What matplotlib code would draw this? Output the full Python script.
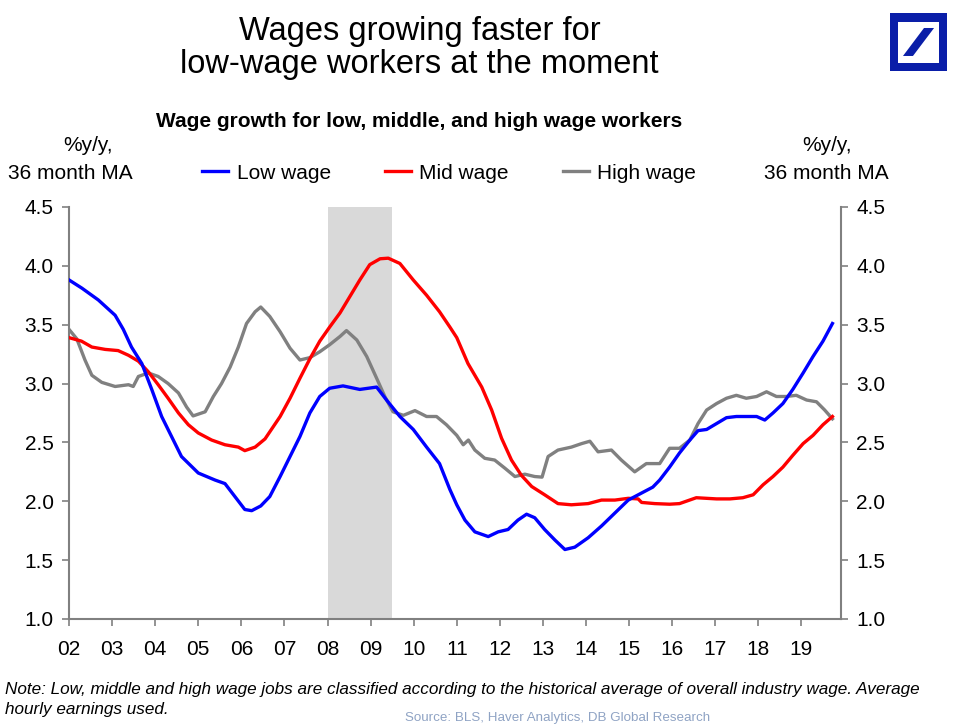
import matplotlib
matplotlib.use("Agg")
import matplotlib.pyplot as plt
from matplotlib.patches import Rectangle, Polygon

plt.rcParams['font.family'] = ['Liberation Sans', 'DejaVu Sans']

# data (year, %y/y 36m MA)
low_x = [2002.0, 2002.3, 2002.68, 2003.07, 2003.26, 2003.45, 2003.69, 2003.92, 2004.15, 2004.38,
         2004.61, 2005.0, 2005.39, 2005.62, 2005.85, 2006.08, 2006.24, 2006.45, 2006.66, 2006.9,
         2007.13, 2007.36, 2007.59, 2007.82, 2008.05, 2008.36, 2008.75, 2009.14, 2009.37, 2009.68,
         2009.99, 2010.3, 2010.6, 2010.84, 2011.0, 2011.19, 2011.42, 2011.73, 2011.96, 2012.19,
         2012.42, 2012.62, 2012.81, 2013.04, 2013.28, 2013.51, 2013.74, 2014.05, 2014.36, 2014.67,
         2014.98, 2015.29, 2015.55, 2015.71, 2015.94, 2016.17, 2016.41, 2016.6, 2016.8, 2017.03,
         2017.26, 2017.49, 2017.72, 2017.96, 2018.15, 2018.34, 2018.57, 2018.8, 2019.04, 2019.27,
         2019.5, 2019.72]
low_y = [3.88, 3.81, 3.71, 3.58, 3.46, 3.31, 3.17, 2.95, 2.72, 2.55,
         2.38, 2.24, 2.18, 2.15, 2.04, 1.93, 1.92, 1.96, 2.04, 2.21,
         2.38, 2.55, 2.75, 2.89, 2.96, 2.98, 2.95, 2.97, 2.86, 2.72,
         2.61, 2.46, 2.32, 2.10, 1.97, 1.84, 1.74, 1.70, 1.74, 1.76,
         1.84, 1.89, 1.86, 1.76, 1.67, 1.59, 1.61, 1.69, 1.79, 1.90,
         2.01, 2.07, 2.12, 2.18, 2.29, 2.41, 2.52, 2.60, 2.61, 2.66,
         2.71, 2.72, 2.72, 2.72, 2.69, 2.75, 2.83, 2.95, 3.09, 3.23,
         3.36, 3.51]

mid_x = [2002.0, 2002.29, 2002.53, 2002.84, 2003.14, 2003.38, 2003.61, 2003.84, 2004.07, 2004.3,
         2004.54, 2004.77, 2005.0, 2005.31, 2005.62, 2005.93, 2006.08, 2006.32, 2006.55, 2006.9,
         2007.13, 2007.36, 2007.59, 2007.82, 2008.05, 2008.29, 2008.52, 2008.75, 2008.98, 2009.22,
         2009.41, 2009.68, 2009.99, 2010.3, 2010.6, 2010.84, 2011.0, 2011.26, 2011.58, 2011.81,
         2012.04, 2012.27, 2012.5, 2012.74, 2013.04, 2013.35, 2013.66, 2014.05, 2014.36, 2014.67,
         2014.98, 2015.21, 2015.29, 2015.6, 2015.94, 2016.17, 2016.56, 2017.03, 2017.34, 2017.64,
         2017.88, 2018.11, 2018.34, 2018.57, 2018.8, 2019.04, 2019.27, 2019.5, 2019.72]
mid_y = [3.39, 3.36, 3.31, 3.29, 3.28, 3.24, 3.19, 3.10, 2.99, 2.875,
         2.75, 2.65, 2.58, 2.52, 2.48, 2.46, 2.43, 2.46, 2.53, 2.72,
         2.875, 3.045, 3.21, 3.36, 3.48, 3.60, 3.74, 3.88, 4.01, 4.06,
         4.065, 4.02, 3.88, 3.75, 3.61, 3.48, 3.39, 3.17, 2.97, 2.775,
         2.535, 2.35, 2.22, 2.125, 2.055, 1.98, 1.97, 1.98, 2.01, 2.01,
         2.025, 2.02, 1.99, 1.98, 1.975, 1.98, 2.03, 2.02, 2.02, 2.03,
         2.055, 2.14, 2.21, 2.29, 2.39, 2.49, 2.56, 2.65, 2.72]

high_x = [2002.0, 2002.18, 2002.37, 2002.53, 2002.76, 2003.07, 2003.38, 2003.49, 2003.61, 2003.84,
          2004.07, 2004.3, 2004.54, 2004.73, 2004.88, 2005.16, 2005.35, 2005.54, 2005.74, 2005.93,
          2006.12, 2006.32, 2006.45, 2006.66, 2006.9, 2007.13, 2007.36, 2007.59, 2007.82, 2008.05,
          2008.29, 2008.44, 2008.68, 2008.91, 2009.14, 2009.33, 2009.52, 2009.76, 2010.03, 2010.3,
          2010.53, 2010.76, 2011.0, 2011.15, 2011.27, 2011.42, 2011.65, 2011.88, 2012.12, 2012.35,
          2012.58, 2012.81, 2012.98, 2013.12, 2013.35, 2013.66, 2013.9, 2014.09, 2014.28, 2014.59,
          2014.82, 2015.13, 2015.4, 2015.71, 2015.94, 2016.17, 2016.41, 2016.6, 2016.8, 2017.03,
          2017.26, 2017.49, 2017.72, 2017.96, 2018.19, 2018.42, 2018.65, 2018.88, 2019.12, 2019.35,
          2019.54, 2019.72]
high_y = [3.46, 3.38, 3.20, 3.07, 3.01, 2.975, 2.99, 2.975, 3.06, 3.09,
          3.06, 3.00, 2.92, 2.80, 2.725, 2.76, 2.89, 3.00, 3.14, 3.31,
          3.51, 3.61, 3.65, 3.57, 3.44, 3.30, 3.20, 3.22, 3.27, 3.33,
          3.40, 3.45, 3.37, 3.23, 3.045, 2.89, 2.76, 2.73, 2.77, 2.72,
          2.72, 2.65, 2.56, 2.48, 2.52, 2.435, 2.365, 2.35, 2.28, 2.21,
          2.23, 2.21, 2.205, 2.38, 2.435, 2.46, 2.49, 2.51, 2.42, 2.435,
          2.35, 2.25, 2.32, 2.32, 2.45, 2.45, 2.52, 2.66, 2.775, 2.83,
          2.875, 2.90, 2.875, 2.89, 2.93, 2.89, 2.89, 2.90, 2.86, 2.845,
          2.775, 2.70]

years = list(range(2002, 2020))
year_labels = ["%02d" % (y % 100) for y in years]
yticks = [1.0, 1.5, 2.0, 2.5, 3.0, 3.5, 4.0, 4.5]
recession = (2008.0, 2009.5)

fig = plt.figure(figsize=(9.6, 7.27), dpi=100)
ax = fig.add_axes([0.0719, 0.1486, 0.8042, 0.5667])

ax.axvspan(recession[0], recession[1], color='#d9d9d9', lw=0, zorder=0)
ax.plot(high_x, high_y, color='#808080', lw=2.4, label='High wage', zorder=2)
ax.plot(mid_x, mid_y, color='#ff0000', lw=2.4, label='Mid wage', zorder=3)
ax.plot(low_x, low_y, color='#0000ff', lw=2.4, label='Low wage', zorder=4)

ax.set_xlim(2002, 2019.92)
ax.set_ylim(1.0, 4.5)
ax.set_xticks(years)
ax.set_xticklabels(year_labels)
ax.set_yticks(yticks)
ax.set_yticklabels(["%.1f" % v for v in yticks])
ax.tick_params(axis='both', labelsize=15, colors='#808080', labelcolor='black',
               direction='out', length=5, width=1.2)
ax.tick_params(axis='x', pad=10)
ax.tick_params(axis='y', right=True, labelright=True, pad=6)
ax.spines['top'].set_visible(False)
for s in ['left', 'right', 'bottom']:
    ax.spines[s].set_color('#808080')
    ax.spines[s].set_linewidth(1.5)

# legend (ordered like the reference)
h, l = ax.get_legend_handles_labels()
order = [2, 1, 0]
fig.legend([h[i] for i in order], [l[i] for i in order], loc='center',
           bbox_to_anchor=(0.468, 0.762), ncol=3, frameon=False, fontsize=15,
           handlelength=1.25, columnspacing=2.6, handletextpad=0.4)

fig.text(0.092, 0.800, "%y/y,", ha='center', va='center', fontsize=15)
fig.text(0.073, 0.762, "36 month MA", ha='center', va='center', fontsize=15)
fig.text(0.861, 0.800, "%y/y,", ha='center', va='center', fontsize=15)
fig.text(0.861, 0.762, "36 month MA", ha='center', va='center', fontsize=15)

fig.text(0.437, 0.934, "Wages growing faster for\nlow-wage workers at the moment",
         ha='center', va='center', fontsize=23.5, linespacing=1.05)
fig.text(0.437, 0.833, "Wage growth for low, middle, and high wage workers",
         ha='center', va='center', fontsize=15, fontweight='bold')

fig.text(0.005, 0.051, "Note: Low, middle and high wage jobs are classified according to the historical average of overall industry wage. Average",
         ha='left', va='center', fontsize=12.3, style='italic')
fig.text(0.005, 0.024, "hourly earnings used.",
         ha='left', va='center', fontsize=12.3, style='italic')
fig.text(0.581, 0.013, "Source: BLS, Haver Analytics, DB Global Research",
         ha='center', va='center', fontsize=9.6, color='#8fa3c4')

# Deutsche Bank logo
blue = '#0a1ea8'
fig.patches.append(Rectangle((0.927, 0.9023), 0.0594, 0.0798, transform=fig.transFigure,
                             facecolor=blue, edgecolor='none'))
fig.patches.append(Rectangle((0.9354, 0.9133), 0.0427, 0.0564, transform=fig.transFigure,
                             facecolor='white', edgecolor='none'))
fig.patches.append(Polygon([(0.9406, 0.923), (0.951, 0.923), (0.973, 0.9615), (0.9625, 0.9615)],
                           closed=True, transform=fig.transFigure, facecolor=blue,
                           edgecolor='none'))

fig.savefig("out.png", dpi=100, facecolor='white')
